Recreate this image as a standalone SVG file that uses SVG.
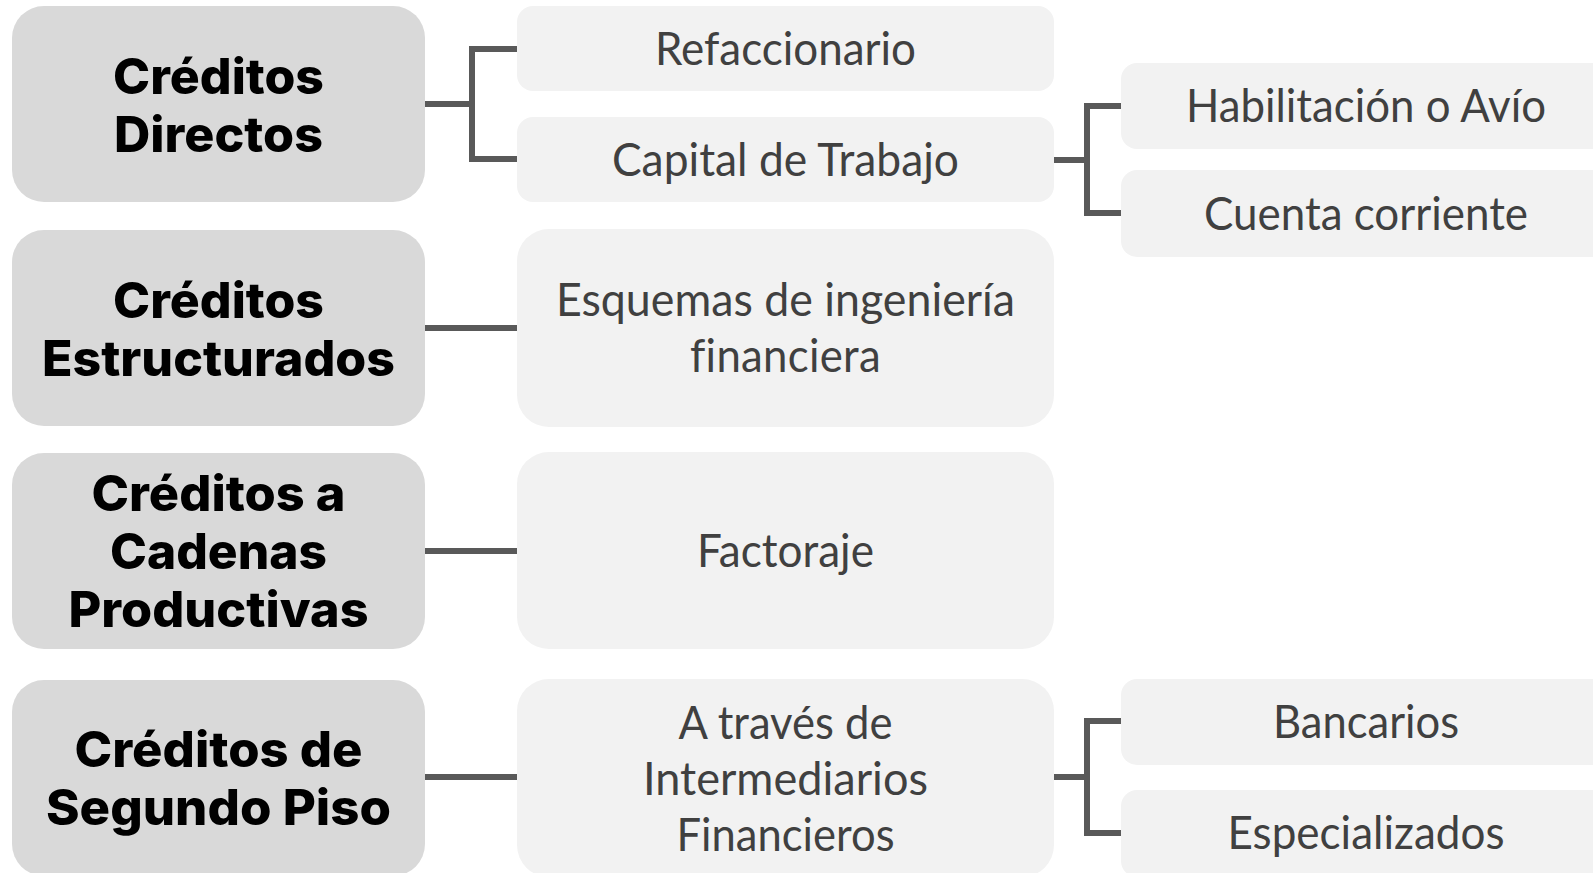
<svg xmlns="http://www.w3.org/2000/svg" width="1593" height="873" viewBox="0 0 1593 873">
<style>
.main rect{fill:#D9D9D9}
.sub rect{fill:#F2F2F2}
.mt{font-family:Inter,"Liberation Sans",sans-serif;font-weight:800;font-size:49px;fill:#000;text-anchor:middle}
.st{font-family:Lato,"Liberation Sans",sans-serif;font-weight:400;font-size:47px;fill:#404040;text-anchor:middle;font-variant-ligatures:none;font-feature-settings:"liga" 0,"clig" 0}
.nolig{letter-spacing:0.3px}
.conn path{fill:none;stroke:#595959;stroke-width:6;stroke-linejoin:miter;stroke-linecap:butt}
</style>
<rect width="1593" height="873" fill="#FFFFFF"/>
<g class="conn" id="connectors">
<path d="M425,104 H472"/>
<path d="M518,49 H472 V159 H518"/>
<path d="M425,328 H517"/>
<path d="M425,551 H517"/>
<path d="M425,777 H517"/>
<path d="M1054,160 H1087"/>
<path d="M1121,106 H1087 V213 H1121"/>
<path d="M1054,777 H1087"/>
<path d="M1121,721 H1087 V833 H1121"/>
</g>
<g class="main" id="creditos-directos">
<rect x="12" y="6" width="413" height="196" rx="32"/>
<text class="mt" x="218.5" y="93.5" textLength="211" lengthAdjust="spacingAndGlyphs">Créditos</text>
<text class="mt" x="218.5" y="151.5" textLength="209" lengthAdjust="spacingAndGlyphs">Directos</text>
</g>
<g class="main" id="creditos-estructurados">
<rect x="12" y="230" width="413" height="196" rx="32"/>
<text class="mt" x="218.5" y="317.5" textLength="211" lengthAdjust="spacingAndGlyphs">Créditos</text>
<text class="mt" x="218.5" y="375.5" textLength="353" lengthAdjust="spacingAndGlyphs">Estructurados</text>
</g>
<g class="main" id="creditos-cadenas">
<rect x="12" y="453" width="413" height="196" rx="32"/>
<text class="mt" x="218.5" y="510.5" textLength="254" lengthAdjust="spacingAndGlyphs">Créditos a</text>
<text class="mt" x="218.5" y="568.5" textLength="217" lengthAdjust="spacingAndGlyphs">Cadenas</text>
<text class="mt" x="218.5" y="626.5" textLength="300" lengthAdjust="spacingAndGlyphs">Productivas</text>
</g>
<g class="main" id="creditos-segundo-piso">
<rect x="12" y="680" width="413" height="196" rx="32"/>
<text class="mt" x="218.5" y="766.5" textLength="288" lengthAdjust="spacingAndGlyphs">Créditos de</text>
<text class="mt" x="218.5" y="824.5" textLength="345" lengthAdjust="spacingAndGlyphs">Segundo Piso</text>
</g>
<g class="sub" id="refaccionario">
<rect x="517" y="6" width="537" height="85" rx="16"/>
<text class="st" x="785.5" y="65" textLength="261" lengthAdjust="spacingAndGlyphs">Refaccionario</text>
</g>
<g class="sub" id="capital-trabajo">
<rect x="517" y="117" width="537" height="85" rx="16"/>
<text class="st" x="785.5" y="176" textLength="347" lengthAdjust="spacingAndGlyphs">Capital de Trabajo</text>
</g>
<g class="sub" id="esquemas">
<rect x="517" y="229" width="537" height="198" rx="32"/>
<text class="st" x="785.5" y="316" textLength="459" lengthAdjust="spacingAndGlyphs">Esquemas de ingeniería</text>
<text class="st nolig" x="785.5" y="371.5" textLength="191" lengthAdjust="spacingAndGlyphs">financiera</text>
</g>
<g class="sub" id="factoraje">
<rect x="517" y="452" width="537" height="197" rx="32"/>
<text class="st" x="785.5" y="567" textLength="177" lengthAdjust="spacingAndGlyphs">Factoraje</text>
</g>
<g class="sub" id="intermediarios">
<rect x="517" y="679" width="537" height="198" rx="32"/>
<text class="st" x="785.5" y="738.5" textLength="214" lengthAdjust="spacingAndGlyphs">A través de</text>
<text class="st" x="785.5" y="794.5" textLength="285" lengthAdjust="spacingAndGlyphs">Intermediarios</text>
<text class="st" x="785.5" y="851" textLength="218" lengthAdjust="spacingAndGlyphs">Financieros</text>
</g>
<g class="sub" id="habilitacion">
<rect x="1121" y="63" width="490" height="86" rx="16"/>
<text class="st" x="1366" y="122" textLength="360" lengthAdjust="spacingAndGlyphs">Habilitación o Avío</text>
</g>
<g class="sub" id="cuenta-corriente">
<rect x="1121" y="170" width="490" height="87" rx="16"/>
<text class="st" x="1366" y="229.5" textLength="324" lengthAdjust="spacingAndGlyphs">Cuenta corriente</text>
</g>
<g class="sub" id="bancarios">
<rect x="1121" y="679" width="490" height="86" rx="16"/>
<text class="st" x="1366" y="738" textLength="186" lengthAdjust="spacingAndGlyphs">Bancarios</text>
</g>
<g class="sub" id="especializados">
<rect x="1121" y="790" width="490" height="87" rx="16"/>
<text class="st" x="1366" y="849" textLength="277" lengthAdjust="spacingAndGlyphs">Especializados</text>
</g>
</svg>
